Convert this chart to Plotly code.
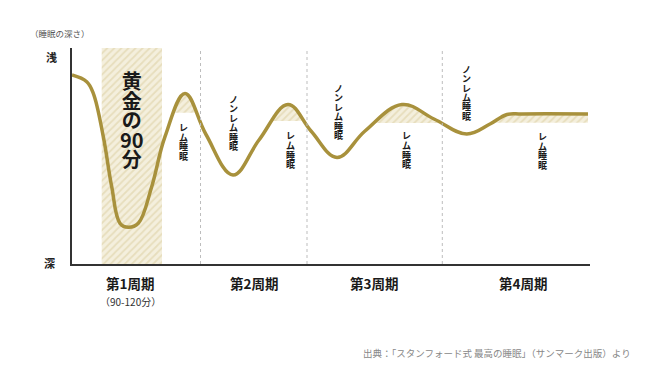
import plotly.graph_objects as go

# ---- data (time along the night in arbitrary units, depth: higher = shallower sleep) ----
curve_t = [0, 14.7, 21.3, 31.3, 39.7, 48, 56.3, 66.3, 79.7, 93, 113, 134, 161, 187, 216,
           239, 265, 293, 330, 362, 394.7, 418, 435, 450, 516]
curve_d = [189, 182.3, 170.7, 127.3, 77.3, 40.7, 36.7, 40.7, 77.3, 127.3, 170.5, 129.5, 89, 124,
           159.5, 133, 106.5, 133, 159.5, 145, 130, 140, 149.5, 150, 150]

cycle_bounds = [0, 128.5, 235, 370.3, 518]
cycle_labels = ["第1周期", "第2周期", "第3周期", "第4周期"]
cycle_label_t = [58, 182, 302, 451]

# REM phases (time span) and the depth above which they are drawn as hatched
rem_start = [95, 195, 300, 410]
rem_end = [128.5, 235, 370.3, 516]
rem_level = [151.3, 143, 141, 141.3]

golden_start, golden_end = 29.7, 90

X_MAX, Y_MAX = 518, 216
GOLD = "#a8913c"
FONT = "Noto Sans CJK JP"
SMOOTH = 1.1

pattern = dict(shape="/", bgcolor="#f4efdd", fgcolor="#d9cc9c", size=5, solidity=0.35)

fig = go.Figure()

# hatched area under the curve (masked outside REM zones)
fig.add_trace(go.Scatter(x=curve_t, y=curve_d, mode="lines",
                         line=dict(width=0, shape="spline", smoothing=SMOOTH),
                         fill="tozeroy", fillpattern=pattern, fillcolor="rgba(0,0,0,0)",
                         hoverinfo="skip", showlegend=False))

# single white mask polygon: everything except REM zones above their level
mx, my = [0, 0], [0, Y_MAX]
for s, e, lv in zip(rem_start, rem_end, rem_level):
    mx += [s, s, e, e]
    my += [Y_MAX, lv, lv, Y_MAX]
mx += [X_MAX, X_MAX, 0]
my += [Y_MAX, 0, 0]
fig.add_trace(go.Scatter(x=mx, y=my, mode="lines", line=dict(width=0), fill="toself",
                         fillcolor="white", hoverinfo="skip", showlegend=False))

# golden 90 minutes band
fig.add_trace(go.Scatter(x=[golden_start, golden_end, golden_end, golden_start, golden_start],
                         y=[0, 0, Y_MAX, Y_MAX, 0], mode="lines", line=dict(width=0),
                         fill="toself", fillpattern=pattern, fillcolor="rgba(0,0,0,0)",
                         hoverinfo="skip", showlegend=False))

# sleep depth curve
fig.add_trace(go.Scatter(x=curve_t, y=curve_d, mode="lines",
                         line=dict(color=GOLD, width=3.5, shape="spline", smoothing=SMOOTH),
                         hoverinfo="skip", showlegend=False))

# cycle dividers
for b in cycle_bounds[1:-1]:
    fig.add_shape(type="line", xref="x", yref="y", x0=b, x1=b, y0=0, y1=Y_MAX,
                  line=dict(color="#bdbdbd", width=1, dash="3px,3px"), layer="above")

annotations = []


def vtext(chars, x, y_mid, pitch, glyph, color="#1a1a1a"):
    # vertical text: line spacing = 1.3 * base font size
    base = pitch / 1.3
    txt = "<br>".join(f"<span style='font-size:{glyph}px'><b>{c}</b></span>" for c in chars)
    annotations.append(dict(x=x, y=y_mid, xref="x", yref="y", text=txt, showarrow=False,
                            xanchor="center", yanchor="middle", borderpad=0,
                            font=dict(family=FONT, size=base, color=color)))


vtext(["黄", "金", "の", "90", "分"], 60, 145, 19.5, 20)

rem_chars = ["レ", "ム", "睡", "眠"]
nrem_chars = ["ノ", "ン", "レ", "ム", "睡", "眠"]
vtext(rem_chars, 111, 122, 9.6, 9)
vtext(nrem_chars, 161, 141, 9.4, 9)
vtext(rem_chars, 218, 114, 9.8, 9)
vtext(nrem_chars, 266.3, 152.5, 9.4, 9)
vtext(rem_chars, 334.7, 114, 9.8, 9)
vtext(nrem_chars, 394.7, 171, 9.3, 9)
vtext(rem_chars, 470.7, 113.5, 9.6, 9)


def px(t):
    return t / X_MAX


def py(d):
    return d / Y_MAX


# cycle labels below axis
for lab, t in zip(cycle_labels, cycle_label_t):
    annotations.append(dict(x=px(t), y=py(-19), xref="paper", yref="paper", text=f"<b>{lab}</b>",
                            showarrow=False, xanchor="center", yanchor="middle",
                            font=dict(family=FONT, size=13.5, color="#1a1a1a")))
annotations.append(dict(x=px(cycle_label_t[0]), y=py(-37), xref="paper", yref="paper",
                        text="（90-120分）", showarrow=False, xanchor="center", yanchor="middle",
                        font=dict(family=FONT, size=10, color="#333")))

# axis end labels
annotations.append(dict(x=px(-21), y=py(207), xref="paper", yref="paper", text="<b>浅</b>",
                        showarrow=False, xanchor="center", yanchor="middle",
                        font=dict(family=FONT, size=11, color="#222")))
annotations.append(dict(x=px(-23), y=py(1), xref="paper", yref="paper", text="<b>深</b>",
                        showarrow=False, xanchor="center", yanchor="middle",
                        font=dict(family=FONT, size=11, color="#222")))
annotations.append(dict(x=px(-12), y=py(231), xref="paper", yref="paper", text="（睡眠の深さ）",
                        showarrow=False, xanchor="center", yanchor="middle",
                        font=dict(family=FONT, size=8.5, color="#555")))

# source
annotations.append(dict(x=px(561), y=py(-89), xref="paper", yref="paper",
                        text="出典：「スタンフォード式 最高の睡眠」（サンマーク出版）より",
                        showarrow=False, xanchor="right", yanchor="middle",
                        font=dict(family=FONT, size=9.5, color="#888")))

fig.update_layout(
    width=634, height=355,
    margin=dict(l=64, r=52, t=40, b=99),
    paper_bgcolor="white", plot_bgcolor="white",
    annotations=annotations,
    hovermode=False,
    xaxis=dict(range=[0, X_MAX], showgrid=False, zeroline=False, showticklabels=False, ticks="",
               showline=True, linecolor="#333", linewidth=1.5, fixedrange=True),
    yaxis=dict(range=[0, Y_MAX], showgrid=False, zeroline=False, showticklabels=False, ticks="",
               showline=True, linecolor="#333", linewidth=1.5, fixedrange=True),
)

fig.write_html("out.html", config={"displayModeBar": False})
